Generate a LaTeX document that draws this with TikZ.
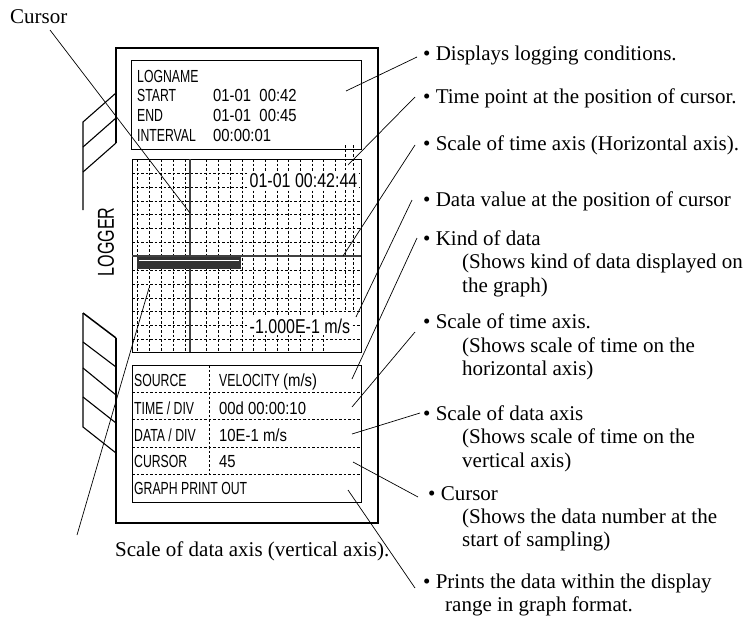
\documentclass[tikz,border=0pt]{standalone}
\usepackage{fontspec}
\setmainfont{Liberation Serif}
\newfontfamily\narrowsf[FakeStretch=0.70]{Liberation Sans}
\newfontfamily\valsf[FakeStretch=0.85]{Liberation Sans}
\newfontfamily\bigsf[FakeStretch=0.80]{Liberation Sans}
\begin{document}
\begin{tikzpicture}[x=1pt,y=-1pt,
  devline/.style={draw=black,line width=1.1pt},
  boxline/.style={draw=black,line width=1.0pt},
  leader/.style={draw=black,line width=0.7pt},
  gridline/.style={draw=black,line width=0.6pt,dash pattern=on 2.5pt off 2pt},
  tabdash/.style={draw=black,line width=0.6pt,dash pattern=on 2.5pt off 2pt},
  lbl/.style={font=\fontsize{21}{23.5}\selectfont,anchor=base west,inner sep=0pt},
  lcdlbl/.style={font=\narrowsf\fontsize{17.5}{20}\selectfont,anchor=base west,inner sep=0pt},
  lcdval/.style={font=\valsf\fontsize{17.5}{20}\selectfont,anchor=base west,inner sep=0pt},
  bigval/.style={font=\bigsf\fontsize{20}{22}\selectfont,anchor=base west,inner sep=1.5pt,fill=white},
]
\useasboundingbox (0,0) rectangle (746,624);

% ---------- device outer frame ----------
\draw[devline] (116,143) -- (116,48) -- (378,48) -- (378,523) -- (116,523) -- (116,338);
% upper side panel
\draw[devline] (116,93) -- (83,122) -- (83,210);
\draw[devline] (116,118) -- (83,147);
\draw[devline] (116,143) -- (83,172);
% lower side panel
\draw[devline,line width=1.5pt] (83,313) -- (116,338);
\draw[devline] (83,313) -- (83,427) -- (116,453);
\draw[devline] (83,342) -- (116,367);
\draw[devline] (83,368) -- (116,395);
\draw[devline] (83,397) -- (116,423);
\node[font=\narrowsf\fontsize{23}{25}\selectfont,rotate=90,inner sep=0pt] (logger) at (106,242) {LOGGER};

% ---------- logging condition box ----------
\draw[boxline] (131,60) rectangle (361,149);
\node[lcdlbl] (ln) at (137,82) {LOGNAME};
\node[lcdlbl] (st) at (137,101) {START};
\node[lcdlbl] (en) at (137,121) {END};
\node[lcdlbl] (iv) at (137,141) {INTERVAL};
\node[lcdval] (stv) at (213,101) {01-01\ \ 00:42};
\node[lcdval] (env) at (213,121) {01-01\ \ 00:45};
\node[lcdval] (ivv) at (213,141) {00:00:01};

% ---------- graph ----------
\foreach \x in {137,149,161,173,185,206,218,230,242,253,265,277,288,300,312,323}
  \draw[gridline] (\x,159) -- (\x,352);
\draw[gridline] (335,159) -- (335,310);
\foreach \x in {345,353}
  \draw[gridline] (\x,145) -- (\x,310);
\foreach \y in {173,187,201,214,228,242,270,284,298,311,325,339}
  \draw[gridline] (132,\y) -- (361,\y);
\fill[white] (324,341) rectangle (360,351);
\node[bigval] (tval) at (248,187) {01-01 00:42:44};
\node[bigval] (dval) at (248,333) {-1.000E-1 m/s};
\draw[boxline] (132,159) rectangle (361,352);
\draw[draw=black!75,line width=1.2pt] (132,256) -- (361,256);
\draw[draw=black!75,line width=1.3pt] (190,159) -- (190,352);
\fill[black!80] (137,257) rectangle (241,269);
\draw[white,line width=0.8pt] (139,260.5) -- (239,260.5);

% ---------- table ----------
\draw[boxline] (132,365) rectangle (361,502);
\foreach \y in {392,419,447,474}
  \draw[tabdash] (132,\y) -- (361,\y);
\draw[tabdash] (209,365) -- (209,474);
\node[lcdlbl] (src) at (134,386) {SOURCE};
\node[lcdlbl] (tdiv) at (134,414) {TIME / DIV};
\node[lcdlbl] (ddiv) at (134,441) {DATA / DIV};
\node[lcdlbl] (cur) at (134,467) {CURSOR};
\node[lcdlbl] (gpo) at (134,494) {GRAPH PRINT OUT};
\node[lcdlbl] (srcv) at (219,386) {VELOCITY {\valsf(m/s)}};
\node[lcdval] (tdivv) at (219,414) {00d 00:00:10};
\node[lcdval] (ddivv) at (219,441) {10E-1 m/s};
\node[lcdval] (curv) at (219,467) {45};

% ---------- labels ----------
\node[lbl] (lcursor) at (10,23) {Cursor};
\node[lbl] (ldaxis) at (115,556) {Scale of data axis (vertical axis).};

\node[lbl] (l1) at (423,60) {\textbullet\ Displays logging conditions.};
\node[lbl] (l2) at (423,103) {\textbullet\ Time point at the position of cursor.};
\node[lbl] (l3) at (423,150) {\textbullet\ Scale of time axis (Horizontal axis).};
\node[lbl] (l4) at (423,206) {\textbullet\ Data value at the position of cursor};
\node[lbl] (l5) at (423,245) {\textbullet\ Kind of data};
\node[lbl] (l5b) at (462,268) {(Shows kind of data displayed on};
\node[lbl] (l5c) at (462,292) {the graph)};
\node[lbl] (l6) at (423,328) {\textbullet\ Scale of time axis.};
\node[lbl] (l6b) at (462,352) {(Shows scale of time on the};
\node[lbl] (l6c) at (462,375) {horizontal axis)};
\node[lbl] (l7) at (423,420) {\textbullet\ Scale of data axis};
\node[lbl] (l7b) at (462,443) {(Shows scale of time on the};
\node[lbl] (l7c) at (462,467) {vertical axis)};
\node[lbl] (l8) at (428,500) {\textbullet\ Cursor};
\node[lbl] (l8b) at (462,523) {(Shows the data number at the};
\node[lbl] (l8c) at (462,546) {start of sampling)};
\node[lbl] (l9) at (423,588) {\textbullet\ Prints the data within the display};
\node[lbl] (l9b) at (445,611) {range in graph format.};

% ---------- leader anchor points ----------
\coordinate (pcur) at (190,213);
\coordinate (qcur) at (50,30);
\coordinate (pdax) at (149,288);
\coordinate (qdax) at (77,535);
\coordinate (p1) at (346,91);
\coordinate (p2) at (348,165);
\coordinate (p3) at (343,256);
\coordinate (p4) at (356,317);
\coordinate (p5) at (352,379);
\coordinate (p6) at (352,407);
\coordinate (p7) at (352,434);
\coordinate (p8) at (353,462);
\coordinate (p9) at (348,490);

\draw[leader] (qcur) -- (pcur);
\draw[leader] (pdax) -- (qdax);
\draw[leader] (p1) -- ([xshift=-6pt,yshift=3pt]l1.base west);
\draw[leader] (p2) -- ([xshift=-8pt,yshift=6pt]l2.base west);
\draw[leader] (p3) -- ([xshift=-8pt,yshift=5pt]l3.base west);
\draw[leader] (p4) -- ([xshift=-11pt,yshift=6pt]l4.base west);
\draw[leader] (p5) -- ([xshift=-6pt,yshift=7pt]l5.base west);
\draw[leader] (p6) -- ([xshift=-8pt,yshift=-4pt]l6.base west);
\draw[leader] (p7) -- ([xshift=-3pt,yshift=7pt]l7.base west);
\draw[leader] (p8) -- ([xshift=-10pt,yshift=3pt]l8.base west);
\draw[leader] (p9) -- ([xshift=-8pt,yshift=0pt]l9.base west);
\end{tikzpicture}
\end{document}
